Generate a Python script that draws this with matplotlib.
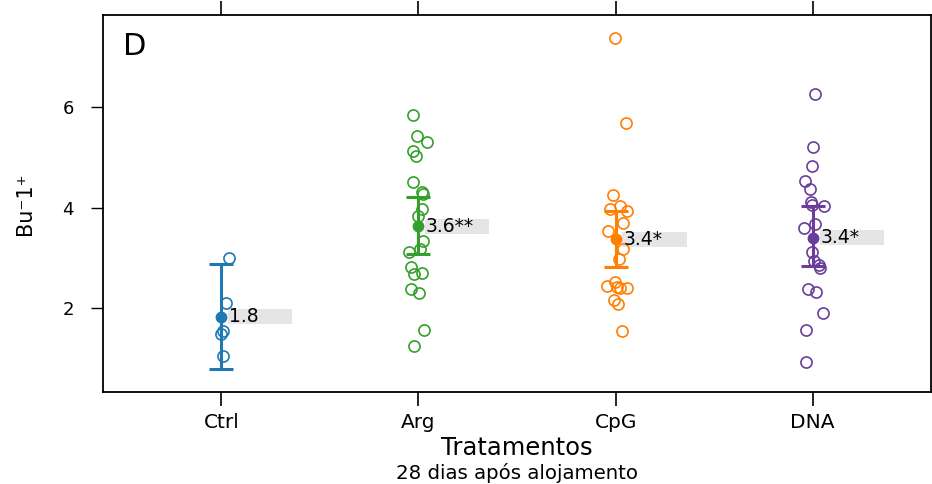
import numpy as np
import matplotlib.pyplot as plt
from matplotlib.patches import Rectangle

plt.rcParams['font.family'] = ['DejaVu Sans']

groups = ["Ctrl", "Arg", "CpG", "DNA"]
colors = ["#1f78b4", "#33a02c", "#ff7f00", "#6a3d9a"]

# individual observations (and small horizontal jitter, in category units)
ctrl_vals = [2.99, 2.10, 1.54, 1.48, 1.05]
ctrl_jit = [0.04, 0.025, 0.01, 0.0, 0.01]
arg_vals = [5.85, 5.43, 5.30, 5.13, 5.02, 4.51, 4.30, 4.27, 3.98, 3.84,
            3.33, 3.17, 3.12, 2.82, 2.68, 2.70, 2.37, 2.30, 1.56, 1.24]
arg_jit = [-0.027, -0.005, 0.046, -0.03, -0.01, -0.03, 0.019, 0.025, 0.02, 0.0,
           0.025, 0.01, -0.046, -0.037, -0.02, 0.02, -0.037, 0.004, 0.027, -0.025]
cpg_vals = [7.38, 5.69, 4.24, 3.98, 4.03, 3.94, 3.70, 3.53, 3.17, 2.97,
            2.44, 2.52, 2.42, 2.39, 2.40, 2.16, 2.09, 1.55]
cpg_jit = [-0.004, 0.054, -0.014, -0.03, 0.02, 0.056, 0.039, -0.037, 0.04, 0.019,
           -0.046, -0.004, 0.009, 0.025, 0.059, -0.009, 0.012, 0.032]
dna_vals = [6.25, 5.21, 4.83, 4.53, 4.36, 4.10, 4.05, 4.04, 3.67, 3.59,
            3.11, 2.94, 2.85, 2.79, 2.37, 2.32, 1.90, 1.56, 0.93]
dna_jit = [0.012, 0.0, -0.005, -0.037, -0.015, -0.007, -0.005, 0.056, 0.012, -0.042,
           -0.005, 0.009, 0.034, 0.036, -0.025, 0.019, 0.052, -0.032, -0.034]

means = [1.83, 3.63, 3.37, 3.40]
err_low = [0.79, 3.07, 2.81, 2.84]
err_high = [2.87, 4.21, 3.94, 4.03]
labels = ["1.8", "3.6**", "3.4*", "3.4*"]

all_vals = [ctrl_vals, arg_vals, cpg_vals, dna_vals]
all_jit = [ctrl_jit, arg_jit, cpg_jit, dna_jit]

fig = plt.figure(figsize=(9.32, 4.84), dpi=100)
ax = fig.add_axes([103/932, 1 - 392/484, (931 - 103)/932, (392 - 15)/484])

for i in range(4):
    x = i + 1
    xs = x + np.array(all_jit[i])
    ax.plot(xs, all_vals[i], 'o', mfc='none', mec=colors[i], ms=8, mew=1.2, zorder=2)
    ax.errorbar([x], [means[i]],
                yerr=[[means[i] - err_low[i]], [err_high[i] - means[i]]],
                fmt='o', color=colors[i], ms=7.5, elinewidth=2.2, capsize=8.5,
                capthick=2.2, zorder=3)
    ax.add_patch(Rectangle((x + 0.035, means[i] - 0.15), 0.325, 0.30,
                           facecolor='#e5e5e5', edgecolor='none', zorder=1))
    ax.text(x + 0.038, means[i], labels[i], fontsize=13.5, va='center', ha='left', zorder=4)

ax.set_xlim(0.4, 4.6)
ax.set_ylim(0.33, 7.83)
ax.set_xticks([1, 2, 3, 4])
ax.set_xticklabels(groups, fontsize=14.5)
ax.set_yticks([2, 4, 6])
ax.set_yticklabels(["2", "4", "6"], fontsize=13)
ax.tick_params(axis='x', direction='out', length=10, width=1.2, top=True, pad=5)
ax.tick_params(axis='y', direction='out', length=9, width=1, pad=12)
for s in ax.spines.values():
    s.set_linewidth(1.3)

ax.text(0.024, 0.955, "D", transform=ax.transAxes, fontsize=22, va='top', ha='left')

ax.set_ylabel("Bu\u207b1\u207a", fontsize=15, labelpad=20)
xc = (103 + 931) / 2 / 932
fig.text(xc, 1 - 455/484, "Tratamentos", fontsize=17.5, ha='center', va='baseline')
fig.text(xc, 1 - 479/484, "28 dias após alojamento", fontsize=14.2, ha='center', va='baseline')

fig.savefig("out.png", dpi=100)
